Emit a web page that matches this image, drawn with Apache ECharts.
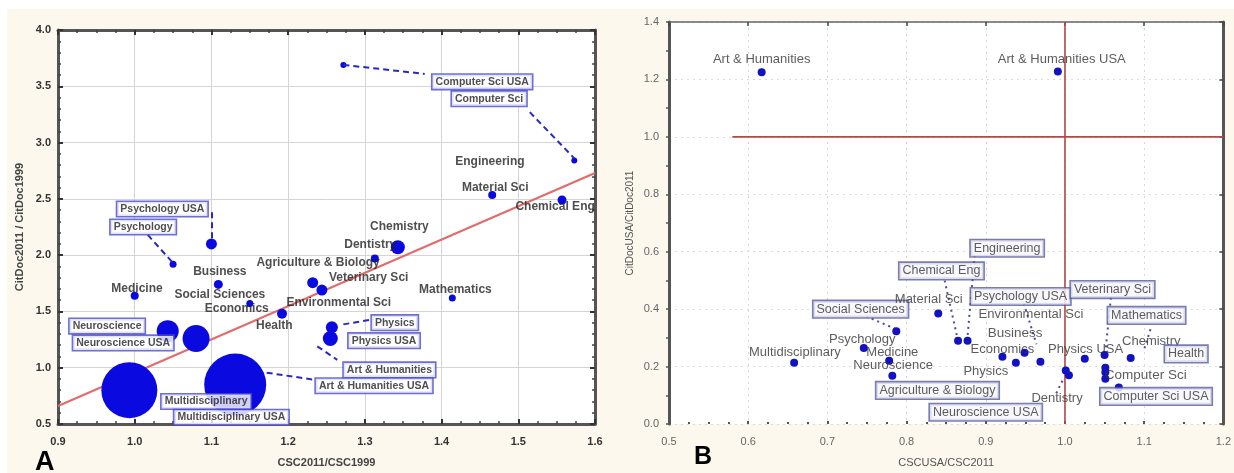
<!DOCTYPE html>
<html><head><meta charset="utf-8">
<script src="https://cdn.jsdelivr.net/npm/echarts@6/dist/echarts.min.js"></script>
<style>html,body{margin:0;padding:0;background:#fff;}#c{width:1234px;height:473px;}</style>
</head><body><div id="c"></div>
<script>
// ---------- Panel A data ----------
const aNames = ['Computer Sci USA','Computer Sci','Material Sci','Chemical Eng','Chemistry','Dentistry',
  'Agriculture & Biology','Veterinary Sci','Mathematics','Health','Economics','Business',
  'Psychology USA','Psychology','Medicine','Neuroscience','Neuroscience USA',
  'Multidisciplinary','Multidisciplinary USA','Physics','Physics USA'];
const aX = [1.272,1.573,1.466,1.557,1.343,1.313,1.232,1.244,1.414,1.192,1.150,1.109,1.100,1.050,1.000,1.043,1.080,0.993,1.131,1.257,1.255];
const aY = [3.69,2.84,2.535,2.49,2.07,1.97,1.755,1.69,1.62,1.48,1.57,1.74,2.10,1.92,1.64,1.325,1.26,0.80,0.85,1.36,1.26];
const aR = [3,3,4,4.5,7,4,5.5,5.5,3.5,5,3.5,4.5,5.5,3.5,4,11,13.5,28,31,6,7.5];
// regression line end points
const aFitX = [0.9, 1.6];
const aFitY = [0.66, 2.73];
// labels: text, x, y, boxed
const aLabels = [
  ['Computer Sci USA',1.453,3.54,1],['Computer Sci',1.462,3.39,1],['Engineering',1.463,2.83,0],
  ['Material Sci',1.47,2.60,0],['Chemical Eng',1.548,2.43,0],['Chemistry',1.345,2.25,0],
  ['Dentistry',1.307,2.09,0],['Agriculture & Biology',1.239,1.93,0],['Veterinary Sci',1.305,1.80,0],
  ['Environmental Sci',1.266,1.58,0],['Mathematics',1.418,1.69,0],['Health',1.182,1.37,0],
  ['Economics',1.133,1.52,0],['Social Sciences',1.111,1.65,0],['Business',1.111,1.85,0],
  ['Medicine',1.003,1.70,0],['Psychology USA',1.036,2.41,1],['Psychology',1.011,2.25,1],
  ['Neuroscience',0.964,1.37,1],['Neuroscience USA',0.985,1.22,1],['Multidisciplinary',1.093,0.70,1],
  ['Multidisciplinary USA',1.126,0.56,1],['Physics',1.339,1.40,1],['Physics USA',1.325,1.24,1],
  ['Art & Humanities',1.332,0.98,1],['Art & Humanities USA',1.312,0.84,1]
];
const aLeaders = [
  [1.272,3.69,1.378,3.61],[1.515,3.27,1.573,2.86],[1.100,2.38,1.100,2.14],[1.017,2.18,1.050,1.93],
  [1.272,1.385,1.311,1.43],[1.238,1.19,1.264,1.07],[1.172,0.956,1.232,0.895]
];
const aXTicks = [0.9,1.6,0.1];
const aYTicks = [0.5,4.0,0.5];

// ---------- Panel B data ----------
const bX = [0.617,0.991,0.658,0.787,0.746,0.778,0.782,0.840,0.865,0.877,0.921,0.938,0.949,0.969,1.001,1.005,1.025,1.050,1.083,1.051,1.051,1.051,1.068];
const bY = [1.225,1.228,0.213,0.323,0.265,0.220,0.168,0.385,0.290,0.290,0.234,0.213,0.248,0.217,0.186,0.170,0.227,0.240,0.230,0.196,0.180,0.158,0.127];
const bLabels = [
  ['Art & Humanities',0.617,1.27,0],['Art & Humanities USA',0.996,1.27,0],['Multidisciplinary',0.659,0.251,0],
  ['Social Sciences',0.742,0.40,1],['Psychology',0.744,0.296,0],['Medicine',0.782,0.251,0],
  ['Neuroscience',0.783,0.203,0],['Agriculture & Biology',0.839,0.117,1],['Neuroscience USA',0.90,0.041,1],
  ['Chemical Eng',0.844,0.533,1],['Engineering',0.927,0.612,1],['Material Sci',0.828,0.433,0],
  ['Psychology USA',0.944,0.444,1],['Environmental Sci',0.957,0.382,0],['Business',0.937,0.316,0],
  ['Economics',0.921,0.261,0],['Physics',0.90,0.182,0],['Physics USA',1.026,0.261,0],
  ['Dentistry',0.99,0.089,0],['Veterinary Sci',1.06,0.468,1],['Mathematics',1.103,0.378,1],
  ['Chemistry',1.109,0.289,0],['Health',1.153,0.244,1],['Computer Sci',1.102,0.169,0],
  ['Computer Sci USA',1.115,0.096,1]
];
const bLeaders = [
  [0.749,0.375,0.787,0.330],[0.848,0.50,0.865,0.29],[0.886,0.588,0.877,0.306],
  [0.948,0.42,0.964,0.278],[0.989,0.107,0.998,0.158],[1.058,0.44,1.051,0.25],[1.108,0.33,1.100,0.26]
];
const bRefH = [[0.58,1.0],[1.2,1.0]];
const bRefV = [[1.0,0.0],[1.0,1.4]];
const bXTicks = [0.5,1.2,0.1];
const bYTicks = [0.0,1.4,0.2];
const bigB = {'Business':1,'Computer Sci':1};

const chart = echarts.init(document.getElementById('c'), null, {renderer:'canvas'});
const blue = '#0a0ae0';
const f1 = v => v.toFixed(1);

function labelData(list, boxStyle, plainStyle, sizes){
  return list.map(l => {
    const st = l[3] ? boxStyle : plainStyle;
    const lab = Object.assign({show:true, position:'inside', formatter:'{b}'}, st);
    if (sizes && sizes[l[0]]) lab.fontSize = 13.5;
    return {name:l[0], value:[l[1], l[2]], label:lab};
  });
}

const option = {
  backgroundColor: '#fff',
  animation: false,
  graphic: [
    {type:'rect', left:7, top:9, shape:{width:1227, height:464}, style:{fill:'#fcf8ee'}, z:-10},
    {type:'text', left:35, top:449, style:{text:'A', fontSize:27, fontWeight:'bold', fill:'#000', fontFamily:'Liberation Sans'}},
    {type:'text', left:694, top:445, style:{text:'B', fontSize:25, fontWeight:'bold', fill:'#000', fontFamily:'Liberation Sans'}}
  ],
  grid: [
    {left:58, top:30, width:537, height:399, show:true, backgroundColor:'#fff', borderColor:'#555', borderWidth:0},
    {left:669, top:22, width:563, height:407, show:true, backgroundColor:'#fff', borderWidth:0}
  ],
  xAxis: [
    {gridIndex:0, type:'value', min:aXTicks[0], max:aXTicks[1], interval:aXTicks[2],
     axisLine:{show:true, onZero:false, lineStyle:{color:'#555', width:3}},
     axisTick:{inside:true, length:5, lineStyle:{color:'#333', width:2}},
     minorTick:{show:true, splitNumber:4, length:3, lineStyle:{color:'#444', width:1.5}},
     splitLine:{show:true, lineStyle:{color:'#d4d4d4', width:1}},
     axisLabel:{formatter:f1, color:'#333', fontWeight:'bold', fontSize:11, margin:12, fontFamily:'Liberation Sans'},
     name:'CSC2011/CSC1999', nameLocation:'middle', nameGap:33,
     nameTextStyle:{color:'#444', fontSize:11, fontWeight:'bold', fontFamily:'Liberation Sans'}},
    {gridIndex:0, type:'value', position:'top', min:aXTicks[0], max:aXTicks[1], interval:aXTicks[2],
     axisLine:{show:true, onZero:false, lineStyle:{color:'#555', width:3}},
     axisTick:{inside:true, length:5, lineStyle:{color:'#333', width:2}},
     minorTick:{show:true, splitNumber:4, length:3, lineStyle:{color:'#444', width:1.5}},
     splitLine:{show:false}, axisLabel:{show:false}},
    {gridIndex:1, type:'value', min:bXTicks[0], max:bXTicks[1], interval:bXTicks[2],
     axisLine:{show:false},
     axisTick:{show:true, inside:true, length:3, lineStyle:{color:'#555', width:2}},
     minorTick:{show:true, splitNumber:4, length:2, lineStyle:{color:'#555', width:2}},
     splitLine:{show:true, lineStyle:{color:'#d8d8d8', type:[2,4], width:1}},
     axisLabel:{formatter:f1, color:'#666', fontSize:11, margin:12, fontFamily:'Liberation Sans'},
     name:'CSCUSA/CSC2011', nameLocation:'middle', nameGap:33,
     nameTextStyle:{color:'#555', fontSize:11, fontFamily:'Liberation Sans'}},
    {gridIndex:1, type:'value', position:'top', min:bXTicks[0], max:bXTicks[1], interval:bXTicks[2],
     axisLine:{show:true, onZero:false, lineStyle:{color:'#666', width:1.5}},
     axisTick:{inside:true, length:4, lineStyle:{color:'#444', width:1.5}},
     splitLine:{show:false}, axisLabel:{show:false}}
  ],
  yAxis: [
    {gridIndex:0, type:'value', min:aYTicks[0], max:aYTicks[1], interval:aYTicks[2],
     axisLine:{show:true, onZero:false, lineStyle:{color:'#555', width:3}},
     axisTick:{inside:true, length:5, lineStyle:{color:'#333', width:2}},
     minorTick:{show:true, splitNumber:5, length:3, lineStyle:{color:'#444', width:1.5}},
     splitLine:{show:true, lineStyle:{color:'#d4d4d4', width:1}},
     axisLabel:{formatter:f1, color:'#333', fontWeight:'bold', fontSize:11, margin:7, fontFamily:'Liberation Sans'},
     name:'CitDoc2011 / CitDoc1999', nameLocation:'middle', nameGap:33,
     nameTextStyle:{color:'#444', fontSize:11, fontWeight:'bold', fontFamily:'Liberation Sans'}},
    {gridIndex:0, type:'value', position:'right', min:aYTicks[0], max:aYTicks[1], interval:aYTicks[2],
     axisLine:{show:true, onZero:false, lineStyle:{color:'#555', width:3}},
     axisTick:{inside:true, length:5, lineStyle:{color:'#333', width:2}},
     minorTick:{show:true, splitNumber:5, length:3, lineStyle:{color:'#444', width:1.5}},
     splitLine:{show:false}, axisLabel:{show:false}},
    {gridIndex:1, type:'value', min:bYTicks[0], max:bYTicks[1], interval:bYTicks[2],
     axisLine:{show:true, onZero:false, lineStyle:{color:'#555', width:3}},
     axisTick:{inside:false, length:3, lineStyle:{color:'#555', width:1.5}},
     minorTick:{show:true, splitNumber:2, length:3, lineStyle:{color:'#555', width:1.5}},
     splitLine:{show:true, lineStyle:{color:'#dcdcdc', type:[2,4], width:1}},
     axisLabel:{formatter:f1, color:'#666', fontSize:11, margin:10, fontFamily:'Liberation Sans'},
     name:'CitDocUSA/CitDoc2011', nameLocation:'middle', nameGap:34,
     nameTextStyle:{color:'#555', fontSize:10, fontFamily:'Liberation Sans'}},
    {gridIndex:1, type:'value', position:'right', min:bYTicks[0], max:bYTicks[1], interval:bYTicks[2],
     axisLine:{show:true, onZero:false, lineStyle:{color:'#555', width:3}},
     axisTick:{inside:true, length:4, lineStyle:{color:'#444', width:1.5}},
     splitLine:{show:false}, axisLabel:{show:false}}
  ],
  series: [
    // Panel A
    {type:'line', xAxisIndex:0, yAxisIndex:0, data:aFitX.map((x,i)=>[x,aFitY[i]]), symbol:'none',
     lineStyle:{color:'#e46a6a', width:2}, z:3, silent:true},
    {type:'scatter', xAxisIndex:0, yAxisIndex:0, z:4,
     data:aX.map((x,i)=>({name:aNames[i], value:[x,aY[i]], symbolSize:aR[i]*2})),
     itemStyle:{color:blue, opacity:1}},
    {type:'lines', coordinateSystem:'cartesian2d', xAxisIndex:0, yAxisIndex:0, z:5,
     data:aLeaders.map(s=>({coords:[[s[0],s[1]],[s[2],s[3]]]})),
     lineStyle:{color:'#2828c8', width:2, type:[6,4], opacity:1}},
    {type:'scatter', xAxisIndex:0, yAxisIndex:0, z:6, symbolSize:0,
     data:labelData(aLabels,
       {color:'#222', fontSize:10.5, fontWeight:'bold', fontFamily:'Liberation Sans', backgroundColor:'#fff',
        borderColor:'#4a4acc', borderWidth:1.6, padding:[2,3,1,3]},
       {color:'#222', fontSize:12, fontWeight:'bold', fontFamily:'Liberation Sans'})},
    // Panel B
    {type:'line', xAxisIndex:2, yAxisIndex:2, data:bRefH, symbol:'none',
     lineStyle:{color:'#b24848', width:1.6}, z:3, silent:true},
    {type:'line', xAxisIndex:2, yAxisIndex:2, data:bRefV, symbol:'none',
     lineStyle:{color:'#b24848', width:1.6}, z:3, silent:true},
    {type:'lines', coordinateSystem:'cartesian2d', xAxisIndex:2, yAxisIndex:2, z:4,
     data:bLeaders.map(s=>({coords:[[s[0],s[1]],[s[2],s[3]]]})),
     lineStyle:{color:'#383890', width:2, type:[2,4], opacity:0.9}},
    {type:'scatter', xAxisIndex:2, yAxisIndex:2, z:5, symbolSize:8,
     data:bX.map((x,i)=>[x,bY[i]]), itemStyle:{color:'#1212c0', opacity:1}},
    {type:'scatter', xAxisIndex:2, yAxisIndex:2, z:6, symbolSize:0,
     data:labelData(bLabels,
       {color:'#333', fontSize:12.5, fontFamily:'Liberation Sans', backgroundColor:'#f6f6fb',
        borderColor:'#5a5c9c', borderWidth:1.6, padding:[2,3,1,3]},
       {color:'#333', fontSize:13, fontFamily:'Liberation Sans'}, bigB)}
  ]
};
chart.setOption(option);
</script>
</body></html>
